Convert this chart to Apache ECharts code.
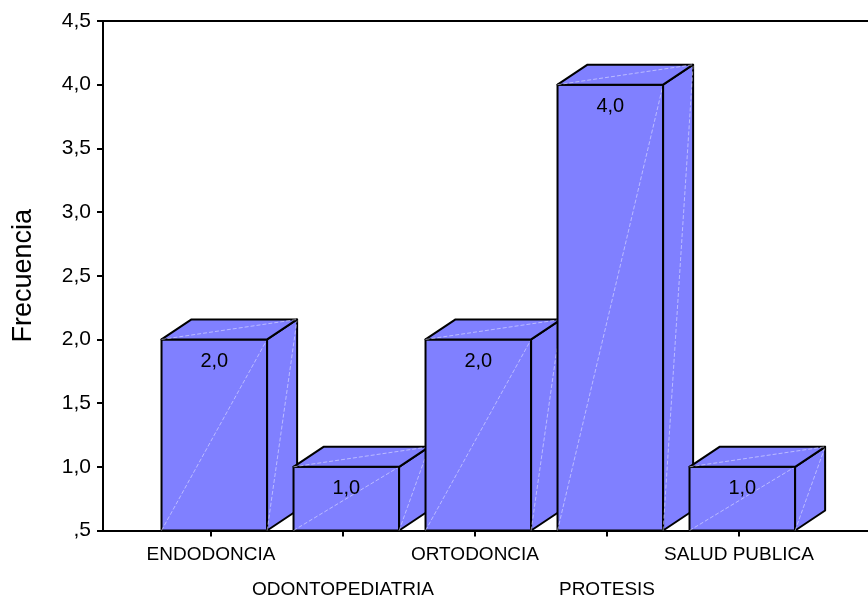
<!DOCTYPE html>
<html>
<head>
<meta charset="utf-8">
<script src="https://cdn.jsdelivr.net/npm/echarts@6/dist/echarts.min.js"></script>
<style>
html,body{margin:0;padding:0;background:#fff;}
#c{width:868px;height:598px;}
</style>
</head>
<body>
<div id="c"></div>
<script>
const categories = ['ENDODONCIA', 'ODONTOPEDIATRIA', 'ORTODONCIA', 'PROTESIS', 'SALUD PUBLICA'];
const values = [2.0, 1.0, 2.0, 4.0, 1.0];
const yMin = 0.5, yMax = 4.5, yStep = 0.5;
const yTitle = 'Frecuencia';

const FONT = '"Liberation Sans", Arial, sans-serif';
const fmt = v => v.toFixed(1).replace('.', ',').replace(/^0/, '');

const chart = echarts.init(document.getElementById('c'));
const DX = 30, DY = -20;
const FILL = '#8080FF';
const EDGE = { stroke: '#000', lineWidth: 2, lineJoin: 'round' };
const HL = { stroke: 'rgba(225,225,255,0.6)', lineWidth: 1, lineDash: [4, 2] };

function renderItem(params, api) {
  const idx = api.value(0);
  const top = api.coord([idx, api.value(1)]);
  const base = api.coord([idx, yMin]);
  const cw = api.size([1, 0])[0];
  const cx = top[0] + 2;
  const L = cx - cw * 0.39, R = cx + cw * 0.41;
  const yt = top[1], yb = base[1];
  const children = [];
  children.push({ type: 'polygon', shape: { points: [[L, yb], [R, yb], [R, yt], [L, yt]] }, style: Object.assign({ fill: FILL }, EDGE) });
  children.push({ type: 'line', shape: { x1: L, y1: yb, x2: R, y2: yt }, style: HL });
  children.push({ type: 'polygon', shape: { points: [[R, yb], [R + DX, yb + DY], [R + DX, yt + DY], [R, yt]] }, style: Object.assign({ fill: FILL }, EDGE) });
  children.push({ type: 'line', shape: { x1: R, y1: yb, x2: R + DX, y2: yt + DY }, style: HL });
  children.push({ type: 'polygon', shape: { points: [[L, yt], [R, yt], [R + DX, yt + DY], [L + DX, yt + DY]] }, style: Object.assign({ fill: FILL }, EDGE) });
  children.push({ type: 'line', shape: { x1: L, y1: yt, x2: R + DX, y2: yt + DY }, style: HL });
  children.push({ type: 'text', style: { text: fmt(api.value(1)), x: (L + R) / 2, y: yt + 22, align: 'center', verticalAlign: 'middle', fill: '#000', font: '20px ' + FONT } });
  return { type: 'group', children };
}

chart.setOption({
  animation: false,
  backgroundColor: '#fff',
  grid: [
    { left: 145, width: 660, top: 21, bottom: 67.5, outerBoundsMode: 'none', containLabel: false },
    { left: 103, right: 0, top: 21, bottom: 67.5, outerBoundsMode: 'none', containLabel: false }
  ],
  xAxis: [
    {
      type: 'category', gridIndex: 0, data: categories, boundaryGap: true,
      axisLine: { show: false },
      axisTick: { show: true, alignWithLabel: true, length: 6, lineStyle: { color: '#000', width: 2 } },
      axisLabel: {
        margin: 7, color: '#000', fontFamily: FONT, fontSize: 19, lineHeight: 35, interval: 0,
        formatter: (v, i) => (i % 2 ? '\n' + v : v)
      },
      splitLine: { show: false }
    },
    {
      type: 'category', gridIndex: 1, data: categories, position: 'bottom',
      axisLine: { show: true, lineStyle: { color: '#000', width: 2 } },
      axisTick: { show: false }, axisLabel: { show: false }, splitLine: { show: false }
    },
    {
      type: 'category', gridIndex: 1, data: categories, position: 'top',
      axisLine: { show: true, lineStyle: { color: '#000', width: 2 } },
      axisTick: { show: false }, axisLabel: { show: false }, splitLine: { show: false }
    }
  ],
  yAxis: [
    { type: 'value', gridIndex: 0, min: yMin, max: yMax, interval: yStep, show: false },
    {
      type: 'value', gridIndex: 1, min: yMin, max: yMax, interval: yStep,
      name: yTitle, nameLocation: 'middle', nameGap: 66, nameRotate: 90,
      nameTextStyle: { color: '#000', fontFamily: FONT, fontSize: 27 },
      axisLine: { show: true, lineStyle: { color: '#000', width: 2 } },
      axisTick: { show: true, length: 6, lineStyle: { color: '#000', width: 2 } },
      axisLabel: { margin: 12, color: '#000', fontFamily: FONT, fontSize: 21, formatter: v => fmt(v) },
      splitLine: { show: false }
    }
  ],
  series: [{
    type: 'custom', xAxisIndex: 0, yAxisIndex: 0, clip: false,
    renderItem,
    data: categories.map((c, i) => [i, values[i]])
  }]
});
</script>
</body>
</html>
